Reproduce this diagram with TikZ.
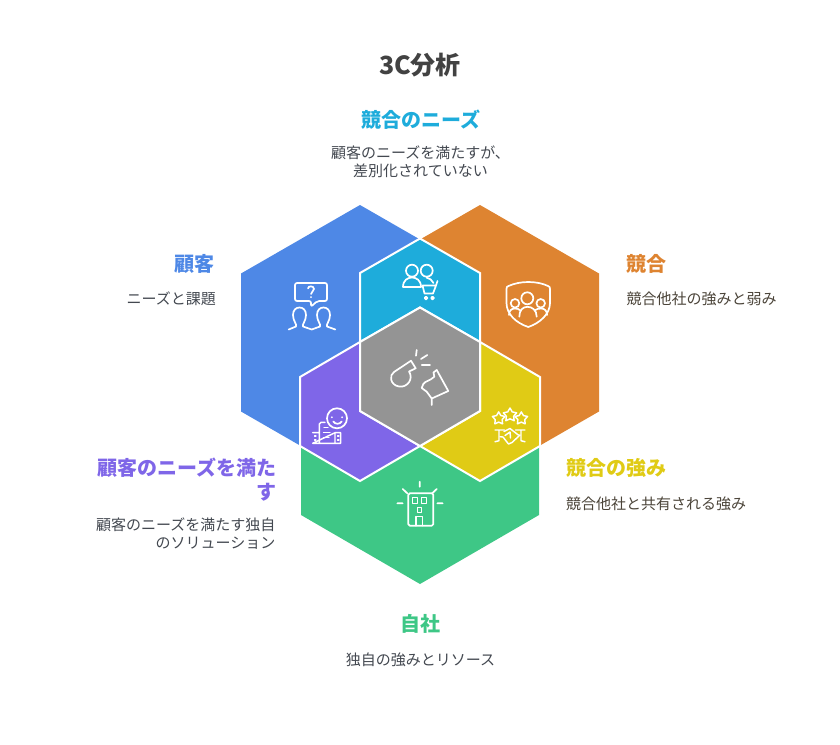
\documentclass[tikz,border=0pt]{standalone}
\usepackage{fontspec}
\setmainfont{Noto Sans CJK JP}
\definecolor{cblue}{HTML}{4E88E6}
\definecolor{corange}{HTML}{DE8431}
\definecolor{ccyan}{HTML}{1EACDB}
\definecolor{cgray}{HTML}{949494}
\definecolor{cpurple}{HTML}{7F66E8}
\definecolor{cyellow}{HTML}{E0CB15}
\definecolor{cgreen}{HTML}{3EC786}
\definecolor{ctitle}{HTML}{424242}
\definecolor{tblue}{HTML}{434850}
\definecolor{tbrown}{HTML}{4B4439}
\tikzset{
  big/.style={draw=none},
  inner hex/.style={draw=white,line width=2pt,line join=miter},
  ico/.style={draw=white,line width=1.7pt,line cap=round,line join=round},
  thin ico/.style={ico,line width=1.45pt},
  head/.style={inner sep=0pt,font=\fontsize{20}{24}\selectfont\bfseries},
  desc/.style={inner sep=0pt,font=\fontsize{15}{18}\selectfont},
  heading title/.style={inner sep=0pt,font=\fontsize{25}{30}\selectfont\bfseries,text=ctitle}
}
\begin{document}
\begin{tikzpicture}[x=1pt,y=-1pt]
\useasboundingbox (0,0) rectangle (840,744);
% large hexagon parts
\fill[cblue] (360,205) -- (420,239.5) -- (420,308) -- (300,377) -- (300,445.5) -- (241,411.5) -- (241,273.5) -- cycle;
\fill[corange] (480,205) -- (599,273.5) -- (599,411.5) -- (540,445.5) -- (540,377) -- (420,308) -- (420,239.5) -- cycle;
\fill[cgreen] (301,447) -- (360,481) -- (420,446) -- (480,481) -- (539,447) -- (539,515) -- (420,584) -- (301,515) -- cycle;
% white separation at the top
\draw[white,line width=2pt] (420,236) -- (420,240);
% overlaps
\filldraw[fill=ccyan,inner hex] (420,238.5) -- (480,273) -- (480,342) -- (420,307.5) -- (360,342) -- (360,273) -- cycle;
\filldraw[fill=cpurple,inner hex] (360,342) -- (360,411) -- (420,446) -- (360,481) -- (300,446) -- (300,377) -- cycle;
\filldraw[fill=cyellow,inner hex] (480,342) -- (540,377) -- (540,446) -- (480,481) -- (420,446) -- (480,411) -- cycle;
\filldraw[fill=cgray,inner hex] (420,307.5) -- (480,342) -- (480,411) -- (420,446) -- (360,411) -- (360,342) -- cycle;
% icon: customers with question
\draw[ico,rounded corners=2pt] (311,301) -- (295,301) -- (295,283) -- (327,283) -- (327,301) -- (317.3,301) -- (311,306.7) -- cycle;
\draw[ico] (308,288.5) .. controls (308,285.5) and (314,285.5) .. (314,289) .. controls (314,291.5) and (311,291.5) .. (311,294);
\fill[white] (311,297.2) circle (1);
\draw[ico] (288.7,329.5) -- (296,326.5) .. controls (297,324) and (293,321) .. (293,315) .. controls (293,310) and (296,307.5) .. (299.5,307.5) .. controls (303,307.5) and (306,310) .. (306,315) .. controls (306,321) and (302,324) .. (303,326.5) -- (311.7,329.5) -- (320,326.5) .. controls (321,324) and (317,321) .. (317,315) .. controls (317,310) and (320,307.5) .. (323.5,307.5) .. controls (327,307.5) and (330,310) .. (330,315) .. controls (330,321) and (326,324) .. (327,326.5) -- (335.3,329.5);
% icon: customers with cart
\draw[ico] (412,270.7) circle (6) (426.7,270.7) circle (6);
\draw[ico] (403,287) .. controls (403,280) and (408,277.5) .. (412,277.5) .. controls (416,277.5) and (421,280) .. (421,287) -- cycle;
\draw[ico] (426.7,277.7) .. controls (429.5,278) and (432,280) .. (433.5,283);
\draw[ico] (437.5,281) -- (436,285.5) -- (433,293.5) -- (424.5,293.5) -- (422.5,285.5) -- (436,285.5);
\draw[ico] (426,298) circle (1.4) (432.5,298) circle (1.4);
% icon: shield with people
\draw[ico] (506.5,289) .. controls (506.5,287) and (507,286.5) .. (508.5,286) .. controls (514,283.5) and (521,282) .. (528.3,282) .. controls (536,282) and (543,283.5) .. (548,286) .. controls (549.5,286.5) and (550,287) .. (550,289) -- (550,303) .. controls (550,314) and (540,323) .. (528.3,327) .. controls (516,323) and (506.5,314) .. (506.5,303) -- cycle;
\draw[ico] (527.3,298.3) circle (6) (515,303.3) circle (4.3) (540.7,303.3) circle (4.3);
\draw[ico] (519.3,316.7) .. controls (519.3,310) and (523,306.8) .. (527.5,306.8) .. controls (532,306.8) and (536.7,310) .. (536.7,316.7);
\draw[ico] (509,315) .. controls (509,311) and (511,308.5) .. (515,308.5) .. controls (517,308.5) and (519,309) .. (520.5,310.5);
\draw[ico] (547,315) .. controls (547,311) and (545,308.5) .. (541,308.5) .. controls (539,308.5) and (536,309) .. (534.5,310.5);
% icon: competing
\draw[ico] (411,360.7) -- (415.7,368.3) -- (409,371.5) .. controls (414,379) and (407,388) .. (399,386.5) .. controls (390,385) and (389,375) .. (394,372) -- cycle;
\draw[ico] (416.7,350) -- (416,355.7) (427.3,355) -- (421,359) (421.7,365) -- (430,365);
\draw[ico] (436.7,370) -- (448.3,391) -- (431.7,398.5) -- (431.7,405);
\draw[ico] (436.7,370) -- (433.5,372.5) -- (434.3,376.7) .. controls (430,381) and (425,381) .. (423.3,384) -- (421.7,388) -- (426.7,391.7) -- (431.7,398.5);
% icon: shared strengths
\foreach \cx/\cy/\r in {510/415/7,498.7/418.5/6.6,521.3/418.5/6.6}{
  \draw[thin ico,fill=cyellow] ({\cx+\r*sin(0)},{\cy-\r*cos(0)}) -- ({\cx+.55*\r*sin(36)},{\cy-.55*\r*cos(36)}) -- ({\cx+\r*sin(72)},{\cy-\r*cos(72)}) -- ({\cx+.55*\r*sin(108)},{\cy-.55*\r*cos(108)}) -- ({\cx+\r*sin(144)},{\cy-\r*cos(144)}) -- ({\cx+.55*\r*sin(180)},{\cy-.55*\r*cos(180)}) -- ({\cx+\r*sin(216)},{\cy-\r*cos(216)}) -- ({\cx+.55*\r*sin(252)},{\cy-.55*\r*cos(252)}) -- ({\cx+\r*sin(288)},{\cy-\r*cos(288)}) -- ({\cx+.55*\r*sin(324)},{\cy-.55*\r*cos(324)}) -- cycle;
}
\draw[thin ico] (495,430) -- (504.3,430) (499,430) -- (499,440.7) -- (495,441.7) (525,430) -- (515.7,430) (521,430) -- (521,440.7) -- (525,441.7);
\draw[thin ico] (500,436.7) -- (503,437) -- (508.5,444) -- (512,442.5) -- (520,435);
\draw[thin ico] (504,431.5) -- (510,428.5) -- (518.3,435) (510,432) -- (505,435.5) (510,432) -- (510.5,438);
% icon: satisfied customer with building
\draw[ico] (337,418.3) circle (10);
\fill[white] (331.9,417.3) circle (1) (342.1,417.3) circle (1);
\draw[ico] (333.3,421.5) .. controls (335,424.5) and (340,424.5) .. (341.7,421.5);
\draw[thin ico] (312.7,432.7) -- (319.3,432.7) -- (319.3,424) -- (321,422.3) -- (325,422.3) (335,432.7) -- (340.7,432.7) -- (340.7,443.3) -- (312.7,443.3) -- cycle (319.3,432.7) -- (319.3,443.3) (335,432.7) -- (335,443.3);
\draw[thin ico,line width=1.2pt] (324,427.5) -- (328,427.5) (323.5,432.7) -- (330,432.7) (323.5,437.5) -- (329,437.5) (314.5,436) -- (316,436) (314.5,440) -- (316,440) (337.5,436) -- (339,436) (337.5,440) -- (339,440);
% icon: own company
\draw[ico,rounded corners=1.5pt] (408.3,493.3) rectangle (433.3,525.7);
\draw[thin ico] (412.3,497.7) rectangle (417.3,503.3) (421.7,497.7) rectangle (426.7,503.3) (417.3,507.3) rectangle (421.7,512.3);
\draw[thin ico] (416,525.7) -- (416,516.7) -- (422.7,516.7) -- (422.7,525.7);
\draw[ico] (419.7,481.7) -- (419.7,486.7) (402.7,489) -- (407.3,493.3) (436.7,489) -- (432.3,493.3) (397.3,503.3) -- (402.7,503.3) (437.3,503.3) -- (442.7,503.3);
% texts
\node[heading title] (title) at (420,65) {3C分析};
\node[head,text=ccyan] (kyogoneeds) at (421,120) {競合のニーズ};
\node[desc,text=tblue,align=center] (kyogoneedsd) at (420.5,161.5) {顧客のニーズを満たすが、\\差別化されていない};
\node[head,text=cblue,anchor=east] (kokyaku) at (215,264) {顧客};
\node[desc,text=tblue,anchor=east] (kokyakud) at (216,299) {ニーズと課題};
\node[head,text=corange,anchor=west] (kyogo) at (626.5,264) {競合};
\node[desc,text=tbrown,anchor=west] (kyogod) at (626.5,299) {競合他社の強みと弱み};
\node[head,text=cyellow,anchor=west] (strength) at (566,468) {競合の強み};
\node[desc,text=tbrown,anchor=west] (strengthd) at (566,504) {競合他社と共有される強み};
\node[head,text=cpurple,align=right,anchor=east] (sol) at (276.5,479.5) {顧客のニーズを満た\\す};
\node[desc,text=tblue,align=right,anchor=east] (sold) at (275.5,533.5) {顧客のニーズを満たす独自\\のソリューション};
\node[head,text=cgreen] (jisha) at (420,624) {自社};
\node[desc,text=tblue] (jishad) at (420.5,660) {独自の強みとリソース};
\end{tikzpicture}
\end{document}
